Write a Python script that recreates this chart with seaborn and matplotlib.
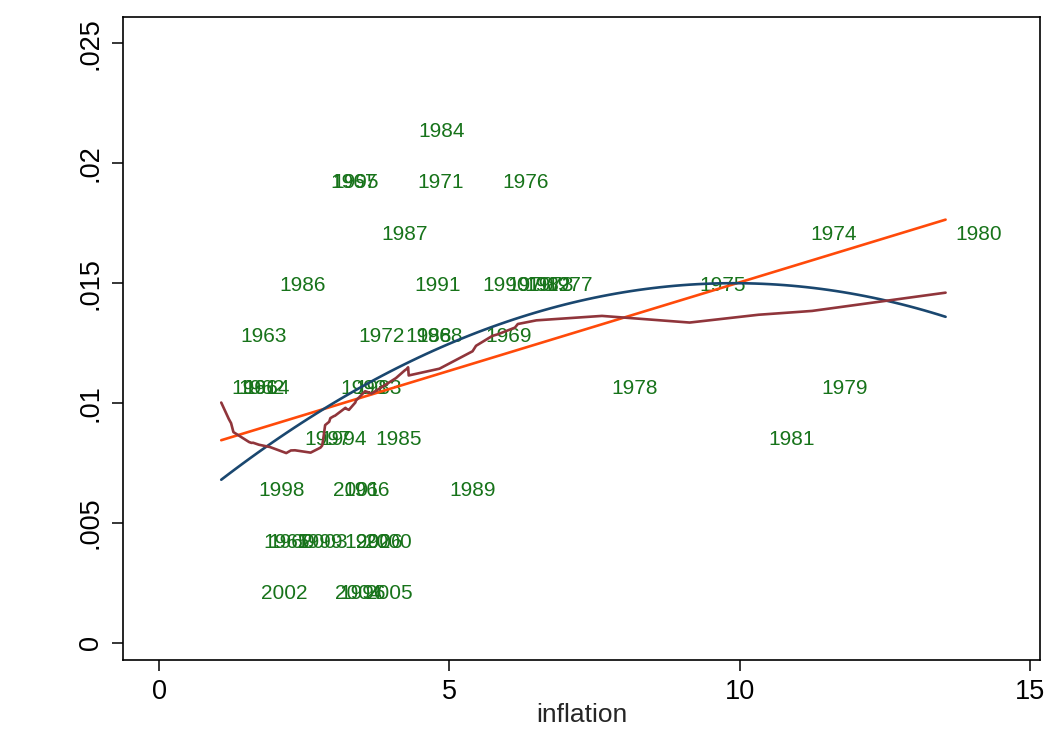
import numpy as np
import matplotlib
matplotlib.use("Agg")
import matplotlib.pyplot as plt
import seaborn as sns
from matplotlib.ticker import FixedLocator, FixedFormatter

# years used as marker labels
years = [1960, 1961, 1962, 1963, 1964, 1965, 1966, 1967, 1968, 1969,
         1970, 1971, 1972, 1973, 1974, 1975, 1976, 1977, 1978, 1979,
         1980, 1981, 1982, 1983, 1984, 1985, 1986, 1987, 1988, 1989,
         1990, 1991, 1992, 1993, 1994, 1995, 1996, 1997, 1998, 1999,
         2000, 2001, 2002, 2003, 2004, 2005, 2006]

inflation = [1.72, 1.07, 1.20, 1.24, 1.28, 1.62, 3.01, 2.78, 4.27, 5.46,
             5.84, 4.29, 3.27, 6.18, 11.05, 9.14, 5.74, 6.50, 7.63, 11.25,
             13.55, 10.33, 6.13, 3.21, 4.30, 3.55, 1.91, 3.66, 4.08, 4.83,
             5.40, 4.23, 3.03, 2.95, 2.61, 2.81, 2.93, 2.34, 1.55, 2.19,
             3.38, 2.83, 1.59, 2.27, 2.86, 3.39, 3.23]

rate = [0.00428, 0.0107, 0.0107, 0.01284, 0.0107, 0.00428, 0.00642, 0.01926, 0.01284, 0.01284,
        0.01498, 0.01926, 0.01284, 0.01498, 0.01712, 0.01498, 0.01926, 0.01498, 0.0107, 0.0107,
        0.01712, 0.00856, 0.01498, 0.0107, 0.0214, 0.00856, 0.01498, 0.01712, 0.01284, 0.00642,
        0.01498, 0.01498, 0.00428, 0.0107, 0.00856, 0.01926, 0.00214, 0.00856, 0.00642, 0.00428,
        0.00428, 0.00642, 0.00214, 0.00428, 0.00214, 0.00214, 0.00428]

x_ticks = [0, 5, 10, 15]
y_ticks = [0, 0.005, 0.01, 0.015, 0.02, 0.025]
y_tick_labels = ["0", ".005", ".01", ".015", ".02", ".025"]

label_green = "#17731a"
lfit_color = "#ff4a0a"
qfit_color = "#1a476f"
lowess_color = "#90353b"


def stata_lowess(x, y, bwidth=0.8):
    # running-line smoother with tricube weights, like Stata's lowess
    order = np.argsort(x, kind="mergesort")
    xs = np.asarray(x, float)[order]
    ys = np.asarray(y, float)[order]
    n = len(xs)
    k = int(np.floor((n * bwidth - 0.5) / 2))
    out = np.empty(n)
    for i in range(n):
        lo, hi = max(0, i - k), min(n - 1, i + k)
        xx, yy = xs[lo:hi + 1], ys[lo:hi + 1]
        delta = 1.0001 * max(xs[hi] - xs[i], xs[i] - xs[lo])
        w = (1 - (np.abs(xx - xs[i]) / delta) ** 3) ** 3
        sw = w.sum()
        xm = (w * xx).sum() / sw
        ym = (w * yy).sum() / sw
        sxx = (w * (xx - xm) ** 2).sum()
        b = (w * (xx - xm) * (yy - ym)).sum() / sxx if sxx > 0 else 0.0
        out[i] = ym + b * (xs[i] - xm)
    return xs, out


sns.set_style("white")
plt.rcParams["font.family"] = ["Liberation Sans", "DejaVu Sans"]

fig = plt.figure(figsize=(10.48, 7.29), dpi=100)
ax = fig.add_axes([0.1175, 0.0947, 0.8745, 0.8823])

# year labels to the right of each (invisible) point
for yr, xv, yv in zip(years, inflation, rate):
    ax.annotate(str(yr), (xv, yv), xytext=(7.0, -1.5), textcoords="offset points",
                ha="left", va="center", color=label_green, fontsize=15, zorder=2)

sns.regplot(x=inflation, y=rate, scatter=False, ci=None, truncate=True,
            line_kws={"color": lfit_color, "lw": 1.9, "zorder": 3}, ax=ax)
sns.regplot(x=inflation, y=rate, scatter=False, ci=None, order=2, truncate=True,
            line_kws={"color": qfit_color, "lw": 1.9, "zorder": 4}, ax=ax)
lx, ly = stata_lowess(inflation, rate)
sns.lineplot(x=lx, y=ly, sort=False, estimator=None, color=lowess_color,
             lw=1.9, zorder=5, ax=ax)

ax.set_xlim(-0.62, 15.17)
ax.set_ylim(-0.00071, 0.0261)

ax.xaxis.set_major_locator(FixedLocator(x_ticks))
ax.yaxis.set_major_locator(FixedLocator(y_ticks))
ax.yaxis.set_major_formatter(FixedFormatter(y_tick_labels))
ax.tick_params(axis="both", direction="out", length=8, width=1.1, color="black",
               labelsize=19.5, labelcolor="black", bottom=True, left=True)
ax.tick_params(axis="x", pad=6)
ax.tick_params(axis="y", pad=6)
for lab in ax.get_yticklabels():
    lab.set_rotation(90)
    lab.set_va("center")

ax.set_xlabel("inflation", fontsize=19, labelpad=-1.5)
ax.set_ylabel("")

for side in ["left", "right", "top", "bottom"]:
    ax.spines[side].set_visible(True)
    ax.spines[side].set_color("black")
    ax.spines[side].set_linewidth(1.2)

fig.savefig("out.png", dpi=100, facecolor="white")
